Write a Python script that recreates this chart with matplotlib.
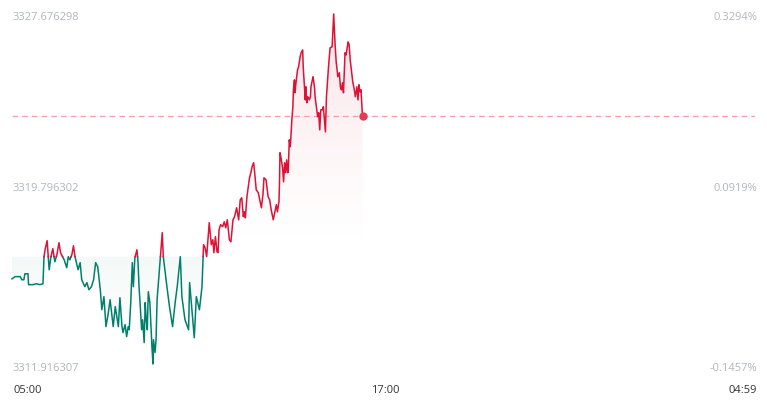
import numpy as np
import matplotlib
matplotlib.use('Agg')
import matplotlib.pyplot as plt
from matplotlib.path import Path

# minutes after 05:00 and price
minutes = [0, 6, 16, 19, 23, 25, 31, 32, 41, 47, 54, 60, 62, 64, 68, 72, 75, 79, 83, 87,
           91, 94, 97, 101, 106, 109, 112, 116, 119, 122, 128, 132, 135, 141, 145, 149, 154, 158, 162, 166,
           171, 174, 178, 182, 186, 190, 196, 200, 206, 209, 213, 215, 219, 222, 225, 227, 230, 233, 235, 238,
           242, 244, 246, 248, 251, 253, 256, 258, 260, 262, 264, 267, 271, 273, 274, 277, 279, 281, 284, 287,
           291, 293, 300, 305, 311, 316, 320, 326, 329, 335, 342, 344, 348, 353, 357, 363, 368, 371, 374, 377,
           382, 386, 389, 391, 394, 397, 399, 401, 404, 408, 411, 414, 417, 421, 424, 428, 431, 435, 439, 442,
           445, 448, 450, 452, 455, 460, 463, 465, 468, 470, 473, 477, 481, 483, 486, 488, 492, 496, 499, 502,
           506, 510, 512, 514, 517, 518, 519, 521, 524, 526, 528, 530, 532, 534, 535, 537, 539, 542, 544, 545,
           547, 548, 550, 553, 555, 558, 560, 563, 564, 566, 568, 569, 571, 573, 576, 578, 579, 583, 584, 586,
           587, 592, 594, 596, 598, 601, 603, 607, 609, 613, 616, 620, 623, 626, 628, 629, 631, 634, 636, 638,
           640, 642, 645, 647, 651, 653, 655, 658, 660, 663, 665, 668, 670, 672, 674, 676, 678, 679]
prices = [3315.75, 3315.85, 3315.85, 3315.71, 3315.71, 3315.98, 3315.98, 3315.49, 3315.49, 3315.53,
          3315.49, 3315.53, 3316.75, 3317.06, 3317.47, 3316.16, 3316.70, 3317.11, 3316.52, 3316.84,
          3317.38, 3316.93, 3316.79, 3316.61, 3316.25, 3316.75, 3316.61, 3316.84, 3317.24, 3316.75,
          3316.16, 3316.48, 3315.71, 3315.40, 3315.58, 3315.26, 3315.40, 3315.71, 3316.48, 3316.30,
          3315.26, 3314.36, 3314.95, 3313.60, 3314.14, 3314.81, 3313.60, 3314.50, 3313.60, 3314.90,
          3313.60, 3313.33, 3313.69, 3313.15, 3313.60, 3313.46, 3314.68, 3316.48, 3315.40, 3316.70,
          3317.06, 3316.52, 3315.40, 3314.68, 3313.46, 3313.91, 3312.88, 3314.68, 3313.91, 3313.46,
          3315.17, 3314.68, 3312.70, 3311.916307, 3313.01, 3312.43, 3313.01, 3314.81, 3315.71, 3316.61,
          3317.83, 3316.75, 3315.40, 3314.50, 3313.60, 3314.68, 3315.40, 3316.75, 3314.95, 3313.91,
          3313.46, 3315.58, 3314.50, 3313.10, 3314.95, 3314.36, 3315.40, 3317.29, 3317.15, 3316.75,
          3318.28, 3317.29, 3317.51, 3316.93, 3317.65, 3316.97, 3316.93, 3317.96, 3318.19, 3318.10,
          3318.32, 3318.05, 3318.41, 3317.51, 3317.42, 3318.41, 3318.55, 3318.95, 3318.41, 3319.31,
          3319.40, 3318.55, 3318.77, 3318.50, 3319.45, 3320.30, 3320.57, 3320.80, 3320.98, 3320.53,
          3319.76, 3319.63, 3319.18, 3318.95, 3319.54, 3320.30, 3320.21, 3319.45, 3319.31, 3318.86,
          3318.41, 3318.86, 3319.09, 3318.77, 3319.22, 3319.99, 3321.43, 3321.20, 3320.75, 3320.12,
          3320.98, 3320.53, 3321.11, 3320.53, 3320.57, 3322.01, 3321.70, 3322.91, 3323.50, 3324.26,
          3324.71, 3324.13, 3324.58, 3325.16, 3325.30, 3325.75, 3325.93, 3326.06, 3325.30, 3324.58,
          3323.81, 3324.40, 3323.68, 3323.95, 3323.81, 3323.95, 3324.40, 3324.85, 3324.71, 3324.35,
          3323.95, 3323.05, 3323.23, 3322.46, 3323.36, 3323.36, 3323.50, 3322.37, 3323.95, 3325.30,
          3326.15, 3326.20, 3327.676298, 3326.20, 3325.48, 3325.30, 3324.85, 3325.03, 3324.40, 3324.26,
          3324.58, 3324.13, 3325.93, 3325.83, 3326.42, 3326.29, 3325.61, 3325.03, 3324.62, 3324.26,
          3323.95, 3324.40, 3323.81, 3324.49, 3324.17, 3324.26, 3323.36, 3323.08]

prev_close = 3316.75
price_labels = ['3327.676298', '3319.796302', '3311.916307']
pct_labels = ['0.3294%', '0.0919%', '-0.1457%']
time_labels = ['05:00', '17:00', '04:59']
y_lo, y_hi = 3311.916307, 3327.676298

RED = '#dd1236'
GREEN = '#00806b'

t = np.array(minutes, dtype=float)
p = np.array(prices)

# вставляем точки пересечения с уровнем закрытия
xs, ys = [t[0]], [p[0]]
for i in range(1, len(t)):
    a, b = p[i - 1] - prev_close, p[i] - prev_close
    if a * b < 0:
        f = a / (a - b)
        xs.append(t[i - 1] + f * (t[i] - t[i - 1]))
        ys.append(prev_close)
    xs.append(t[i])
    ys.append(p[i])
xs, ys = np.array(xs), np.array(ys)

W, H = 767, 413
fig = plt.figure(figsize=(W / 100, H / 100), dpi=100)
ax = fig.add_axes([12 / W, 49 / H, 743 / W, 350 / H])
ax.set_axis_off()

# градиентная заливка
poly_up = ax.fill_between(xs, np.maximum(ys, prev_close), prev_close, color='none', lw=0)
poly_dn = ax.fill_between(xs, np.minimum(ys, prev_close), prev_close, color='none', lw=0)

grad = np.linspace(0, 1, 256)
img_up = np.zeros((256, 1, 4))
img_up[..., :3] = matplotlib.colors.to_rgb(RED)
img_up[:, 0, 3] = 0.13 * grad ** 1.4
im1 = ax.imshow(img_up, extent=[0, t[-1], prev_close, y_hi], origin='lower', aspect='auto',
                interpolation='bilinear', zorder=1)
im1.set_clip_path(Path.make_compound_path(*poly_up.get_paths()), ax.transData)

img_dn = np.zeros((256, 1, 4))
img_dn[..., :3] = matplotlib.colors.to_rgb(GREEN)
img_dn[:, 0, 3] = 0.05 * grad ** 1.5
im2 = ax.imshow(img_dn, extent=[0, t[-1], y_lo, prev_close], origin='lower', aspect='auto',
                interpolation='bilinear', zorder=1)
im2.set_clip_path(Path.make_compound_path(*poly_dn.get_paths()), ax.transData)

up = np.where(ys >= prev_close, ys, np.nan)
dn = np.where(ys <= prev_close, ys, np.nan)
ax.plot(xs, dn, color=GREEN, lw=1.1, zorder=3, clip_on=False)
ax.plot(xs, up, color=RED, lw=1.1, zorder=3, clip_on=False)

ax.axhline(p[-1], color='#f5a3ab', lw=1, ls=(0, (4, 3)), zorder=2)
ax.plot(t[-1], p[-1], 'o', ms=6, color='#e63a52', mec='none', zorder=4, clip_on=False)

ax.set_xlim(0, 1439)
ax.set_ylim(y_lo, y_hi)

font = dict(family='Open Sans', fontsize=8)
for lab, yb in zip(price_labels, [20, 191, 371]):
    fig.text(13 / W, 1 - yb / H, lab, color='#b2b5be', ha='left', va='baseline', **font)
for lab, yb in zip(pct_labels, [20, 191, 371]):
    fig.text(757 / W, 1 - yb / H, lab, color='#b2b5be', ha='right', va='baseline', **font)
for lab, xp, ha in zip(time_labels, [13, 385, 757], ['left', 'center', 'right']):
    fig.text(xp / W, 1 - 393 / H, lab, color='#333333', ha=ha, va='baseline', **font)

fig.savefig('out.png', dpi=100)
